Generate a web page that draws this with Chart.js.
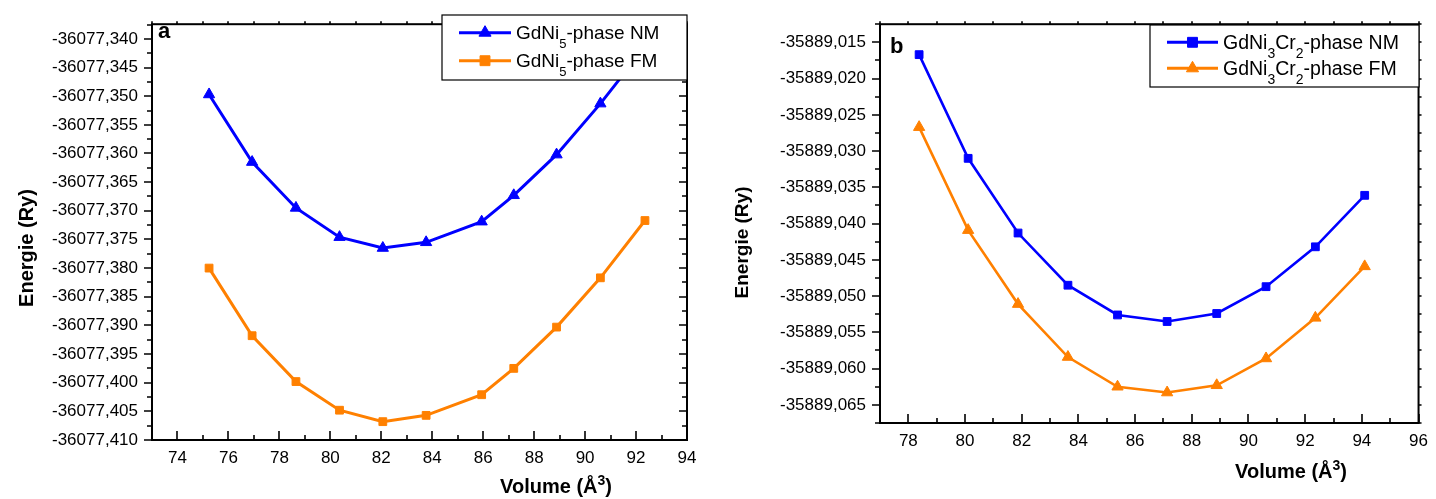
<!DOCTYPE html>
<html>
<head>
<meta charset="utf-8">
<script src="https://cdn.jsdelivr.net/npm/chart.js@4/dist/chart.umd.min.js"></script>
<style>
  html, body { margin: 0; padding: 0; background: #fff; }
  #wrap { position: relative; width: 1436px; height: 499px; }
  canvas { position: absolute; top: 0; }
  #chartA { left: 0; }
  #chartB { left: 718px; }
</style>
</head>
<body>
<div id="wrap">
  <canvas id="chartA" width="718" height="499"></canvas>
  <canvas id="chartB" width="718" height="499"></canvas>
</div>
<script>
// --- Data: cell volume (Å^3) vs total energy (Ry) ---
const volNi5 = [75.24, 76.93, 78.65, 80.36, 82.06, 83.76, 85.94, 87.20, 88.88, 90.60, 92.35];
const eNi5NM = [-36077.3497, -36077.3615, -36077.3695, -36077.3746, -36077.3765, -36077.3755,
  -36077.3719, -36077.3673, -36077.3602, -36077.3513, -36077.3414];
const eNi5FM = [-36077.3800, -36077.3918, -36077.3998, -36077.4048, -36077.4068, -36077.4057,
  -36077.4021, -36077.3975, -36077.3903, -36077.3817, -36077.3717];

const volNi3Cr2 = [78.38, 80.11, 81.87, 83.63, 85.38, 87.13, 88.88, 90.62, 92.36, 94.10];
const eNi3Cr2NM = [-35889.0167, -35889.0310, -35889.0413, -35889.0485, -35889.0526,
  -35889.0535, -35889.0524, -35889.0487, -35889.0432, -35889.0361];
const eNi3Cr2FM = [-35889.0267, -35889.0409, -35889.0511, -35889.0584, -35889.0625,
  -35889.0633, -35889.0623, -35889.0586, -35889.0530, -35889.0459];

// --- Axis ticks ---
const xTicksNi5 = [74, 76, 78, 80, 82, 84, 86, 88, 90, 92, 94];
const yTicksNi5 = [-36077.340, -36077.345, -36077.350, -36077.355, -36077.360, -36077.365,
  -36077.370, -36077.375, -36077.380, -36077.385, -36077.390, -36077.395, -36077.400,
  -36077.405, -36077.410];
const xTicksNi3Cr2 = [78, 80, 82, 84, 86, 88, 90, 92, 94, 96];
const yTicksNi3Cr2 = [-35889.015, -35889.020, -35889.025, -35889.030, -35889.035, -35889.040,
  -35889.045, -35889.050, -35889.055, -35889.060, -35889.065];

// _x = subscript, ^x = superscript
const labelsNi5 = ["GdNi_5-phase NM", "GdNi_5-phase FM"];
const labelsNi3Cr2 = ["GdNi_3Cr_2-phase NM", "GdNi_3Cr_2-phase FM"];
const yTitle = "Energie (Ry)";
const xTitle = "Volume (Å^3)";

const FONT = "'Liberation Sans', Arial, Helvetica, sans-serif";
const BLUE = "rgb(0,0,255)";
const ORANGE = "rgb(255,128,0)";
const W = 718, H = 499;

Chart.defaults.font.family = FONT;
Chart.defaults.color = "#000";

// --- Text with sub/superscripts ---
function richParts(str) {
  const parts = [];
  for (let i = 0; i < str.length; i++) {
    const c = str[i];
    if ((c === "_" || c === "^") && i + 1 < str.length) {
      parts.push({ t: str[i + 1], mode: c === "_" ? "sub" : "sup" });
      i++;
    } else if (parts.length && parts[parts.length - 1].mode === "base") {
      parts[parts.length - 1].t += c;
    } else {
      parts.push({ t: c, mode: "base" });
    }
  }
  return parts;
}

function drawRich(ctx, str, x, y, size, bold, align) {
  const parts = richParts(str);
  const weight = bold ? "bold " : "";
  const fontFor = (p) => weight + (p.mode === "base" ? size : Math.round(size * 0.7)) + "px " + FONT;
  let total = 0;
  parts.forEach((p) => {
    ctx.font = fontFor(p);
    p.w = ctx.measureText(p.t).width;
    total += p.w;
  });
  let cx = align === "center" ? x - total / 2 : x;
  ctx.textAlign = "left";
  ctx.textBaseline = "alphabetic";
  ctx.fillStyle = "#000";
  parts.forEach((p) => {
    ctx.font = fontFor(p);
    const dy = p.mode === "sub" ? size * 0.45 : p.mode === "sup" ? -size * 0.38 : 0;
    ctx.fillText(p.t, cx, y + dy);
    cx += p.w;
  });
}

// minor ticks halfway between the major ones
function minorTicks(major, min, max) {
  const step = Math.abs(major[1] - major[0]);
  const lo = Math.min(...major), hi = Math.max(...major);
  const out = [];
  for (let v = lo - step / 2; v <= hi + step / 2 + 1e-9; v += step) {
    if (v >= min - 1e-9 && v <= max + 1e-9) out.push(v);
  }
  return out;
}

// --- Frame, ticks, legend and titles ---
const framePlugin = {
  id: "frame",
  beforeDatasetsDraw(chart) {
    const p = chart.options.plugins.frame;
    const { left, right, top, bottom } = chart.chartArea;
    const xs = chart.scales.x, ys = chart.scales.y;
    const ctx = chart.ctx;
    ctx.save();
    ctx.strokeStyle = "#000";
    ctx.lineWidth = 2;
    ctx.strokeRect(left, top, right - left, bottom - top);

    const xMaj = xs.ticks.map((t) => t.value);
    const yMaj = ys.ticks.map((t) => t.value);
    const xMin = minorTicks(xMaj, xs.min, xs.max);
    const yMin = minorTicks(yMaj, ys.min, ys.max);

    ctx.lineWidth = 1.6;
    ctx.beginPath();
    const hTick = (v, x0, len) => {
      const y = Math.round(ys.getPixelForValue(v));
      ctx.moveTo(x0, y);
      ctx.lineTo(x0 + len, y);
    };
    const vTick = (v, y0, len) => {
      const x = Math.round(xs.getPixelForValue(v));
      ctx.moveTo(x, y0);
      ctx.lineTo(x, y0 + len);
    };
    // left axis: outward
    yMaj.forEach((v) => hTick(v, left, -8));
    yMin.forEach((v) => hTick(v, left, -5));
    // right axis
    yMaj.forEach((v) => hTick(v, right, p.right.dir * p.right.major));
    yMin.forEach((v) => hTick(v, right, p.right.dir * p.right.minor));
    // bottom axis: inward
    xMaj.forEach((v) => vTick(v, bottom, -9));
    xMin.forEach((v) => vTick(v, bottom, -5));
    // top axis: short outward marks
    xMaj.concat(xMin).forEach((v) => vTick(v, top, -3));
    ctx.stroke();
    ctx.restore();
  },
  afterDatasetsDraw(chart) {
    const p = chart.options.plugins.frame;
    const ctx = chart.ctx;
    const lg = p.legend;
    ctx.save();
    // legend box
    ctx.fillStyle = "#fff";
    ctx.fillRect(lg.box[0], lg.box[1], lg.box[2] - lg.box[0], lg.box[3] - lg.box[1]);
    ctx.strokeStyle = "#000";
    ctx.lineWidth = 1.2;
    ctx.strokeRect(lg.box[0], lg.box[1], lg.box[2] - lg.box[0], lg.box[3] - lg.box[1]);
    chart.data.datasets.forEach((ds, i) => {
      const y = lg.rows[i];
      ctx.strokeStyle = ds.borderColor;
      ctx.lineWidth = 3;
      ctx.beginPath();
      ctx.moveTo(lg.line[0], y);
      ctx.lineTo(lg.line[1], y);
      ctx.stroke();
      ctx.fillStyle = ds.borderColor;
      ctx.lineWidth = 1;
      Chart.helpers.drawPoint(ctx, { pointStyle: ds.pointStyle, radius: 7, borderWidth: 1, rotation: 0 },
        (lg.line[0] + lg.line[1]) / 2, y);
      drawRich(ctx, ds.label, lg.textX, y + lg.size * 0.35, lg.size, false, "left");
    });
    ctx.restore();
  },
  afterDraw(chart) {
    const p = chart.options.plugins.frame;
    const ctx = chart.ctx;
    ctx.save();
    ctx.fillStyle = "#000";
    ctx.font = "bold 22px " + FONT;
    ctx.textAlign = "left";
    ctx.textBaseline = "alphabetic";
    ctx.fillText(p.letter, p.letterPos[0], p.letterPos[1]);

    drawRich(ctx, xTitle, p.xTitle.x, p.xTitle.y, p.xTitle.size, true, "center");

    ctx.translate(p.yTitle.x, p.yTitle.y);
    ctx.rotate(-Math.PI / 2);
    drawRich(ctx, yTitle, 0, 0, p.yTitle.size, true, "center");
    ctx.restore();
  },
};

function makeDataset(label, xs, ys, color, style, lineWidth) {
  return {
    label: label,
    data: xs.map((x, i) => ({ x: x, y: ys[i] })),
    borderColor: color,
    backgroundColor: color,
    borderWidth: lineWidth,
    pointStyle: style,
    pointRadius: style === "triangle" ? 6.5 : 5.5,
    pointBorderWidth: 1,
    pointBackgroundColor: color,
    pointBorderColor: color,
    tension: 0,
    fill: false,
  };
}

function makePanel(canvasId, p) {
  const area = p.area;
  return new Chart(document.getElementById(canvasId), {
    type: "line",
    data: { datasets: p.datasets },
    plugins: [framePlugin],
    options: {
      responsive: false,
      animation: false,
      devicePixelRatio: 1,
      layout: {
        autoPadding: false,
        padding: { left: 0, top: area.top, right: W - area.right, bottom: 0 },
      },
      plugins: {
        legend: { display: false },
        tooltip: { enabled: false },
        frame: p,
      },
      scales: {
        x: {
          type: "linear",
          bounds: "data",
          min: p.xRange[0],
          max: p.xRange[1],
          grid: { display: false, drawTicks: false },
          border: { display: false },
          afterBuildTicks: (s) => { s.ticks = p.xTicks.map((v) => ({ value: v })); },
          afterFit: (s) => { s.height = H - area.bottom; },
          ticks: {
            autoSkip: false,
            maxRotation: 0,
            padding: 8,
            color: "#000",
            font: { size: 17 },
            callback: (v) => String(v),
          },
        },
        y: {
          type: "linear",
          bounds: "data",
          min: p.yRange[0],
          max: p.yRange[1],
          grid: { display: false, drawTicks: false },
          border: { display: false },
          afterBuildTicks: (s) => { s.ticks = p.yTicks.map((v) => ({ value: v })); },
          afterFit: (s) => { s.width = area.left; },
          ticks: {
            autoSkip: false,
            padding: 14,
            color: "#000",
            font: { size: 17 },
            callback: (v) => v.toFixed(3).replace(".", ","),
          },
        },
      },
    },
  });
}

// --- Panel a: GdNi5 ---
makePanel("chartA", {
  datasets: [
    makeDataset(labelsNi5[0], volNi5, eNi5NM, BLUE, "triangle", 3),
    makeDataset(labelsNi5[1], volNi5, eNi5FM, ORANGE, "rect", 3),
  ],
  area: { left: 152, top: 15, right: 687, bottom: 440 },
  xRange: [73, 94],
  yRange: [-36077.4100, -36077.33744],
  xTicks: xTicksNi5,
  yTicks: yTicksNi5,
  right: { dir: -1, major: 8, minor: 5 },
  legend: { box: [442, 15, 687, 80], line: [459, 511], rows: [32.7, 60.7], textX: 516, size: 19 },
  letter: "a",
  letterPos: [158, 38],
  xTitle: { x: 556, y: 493, size: 20 },
  yTitle: { x: 33, y: 248, size: 20 },
});

// --- Panel b: GdNi3Cr2 ---
makePanel("chartB", {
  datasets: [
    makeDataset(labelsNi3Cr2[0], volNi3Cr2, eNi3Cr2NM, BLUE, "rect", 2.6),
    makeDataset(labelsNi3Cr2[1], volNi3Cr2, eNi3Cr2FM, ORANGE, "triangle", 2.6),
  ],
  area: { left: 162, top: 24, right: 705, bottom: 423 },
  xRange: [77, 96],
  yRange: [-35889.0675, -35889.0125],
  xTicks: xTicksNi3Cr2,
  yTicks: yTicksNi3Cr2,
  right: { dir: 1, major: 3, minor: 3 },
  legend: { box: [432, 25, 701, 87], line: [449, 500], rows: [42.3, 68.3], textX: 505, size: 19.5 },
  letter: "b",
  letterPos: [172, 53],
  xTitle: { x: 573, y: 478, size: 20 },
  yTitle: { x: 30, y: 242.5, size: 19 },
});
</script>
</body>
</html>
